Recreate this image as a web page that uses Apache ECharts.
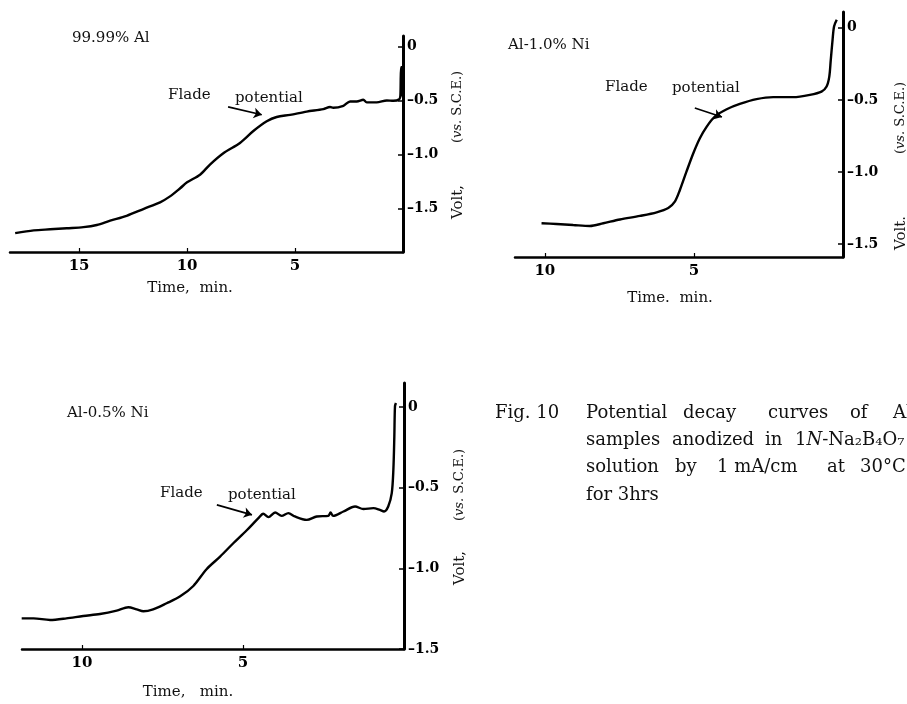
<!DOCTYPE html>
<html>
<head>
<meta charset="utf-8">
<script src="https://cdn.jsdelivr.net/npm/echarts@6/dist/echarts.min.js"></script>
<style>html,body{margin:0;padding:0;background:#fff}#c{width:907px;height:704px}</style>
</head>
<body>
<div id="c"></div>
<script>
// ---- data (time in min, potential in V vs S.C.E.) ----
const panelTitles = ['99.99% Al', 'Al-1.0% Ni', 'Al-0.5% Ni'];
const yTickValues = [0, -0.5, -1.0, -1.5];
const xTicks1 = [5, 10, 15];
const xTicks2 = [5, 10];
const xTicks3 = [5, 10];

const curveAl = [[17.96,-1.725],[17.1,-1.70],[16.34,-1.69],[15.57,-1.68],[14.8,-1.67],[14.18,-1.65],[13.56,-1.61],[12.8,-1.565],[12.0,-1.50],[11.25,-1.44],[10.79,-1.385],[10.32,-1.31],[10.0,-1.255],[9.4,-1.185],[8.94,-1.09],[8.32,-0.985],[7.55,-0.89],[6.93,-0.78],[6.31,-0.69],[5.85,-0.65],[5.23,-0.63],[4.46,-0.60],[3.69,-0.577],[3.38,-0.558],[3.23,-0.565],[2.76,-0.546],[2.45,-0.506],[2.14,-0.506],[1.84,-0.49],[1.68,-0.515],[1.22,-0.515],[0.75,-0.497],[0.45,-0.50],[0.17,-0.485],[0.12,-0.45],[0.09,-0.19],[0.04,-0.19],[0.03,-0.46]];
const curveNi10 = [[10.11,-1.356],[9.61,-1.361],[9.05,-1.368],[8.49,-1.375],[8.04,-1.356],[7.48,-1.33],[6.81,-1.305],[6.25,-1.28],[5.86,-1.25],[5.64,-1.206],[5.47,-1.125],[5.25,-0.998],[5.02,-0.87],[4.8,-0.766],[4.57,-0.685],[4.3,-0.616],[3.9,-0.565],[3.46,-0.528],[2.9,-0.495],[2.34,-0.481],[1.67,-0.481],[1.11,-0.465],[0.72,-0.442],[0.55,-0.407],[0.46,-0.338],[0.41,-0.222],[0.35,-0.083],[0.30,0.01],[0.21,0.056]];
const curveNi05 = [[11.87,-1.31],[11.5,-1.31],[10.99,-1.32],[10.48,-1.31],[9.96,-1.295],[9.44,-1.283],[8.92,-1.262],[8.56,-1.241],[8.30,-1.254],[8.09,-1.266],[7.79,-1.254],[7.37,-1.216],[6.96,-1.175],[6.54,-1.109],[6.13,-1.005],[5.71,-0.927],[5.30,-0.844],[4.89,-0.765],[4.52,-0.688],[4.37,-0.661],[4.21,-0.682],[4.0,-0.653],[3.80,-0.674],[3.59,-0.657],[3.39,-0.678],[3.02,-0.699],[2.71,-0.678],[2.35,-0.674],[2.28,-0.653],[2.20,-0.674],[1.88,-0.647],[1.52,-0.616],[1.26,-0.632],[0.95,-0.626],[0.75,-0.637],[0.62,-0.647],[0.49,-0.616],[0.38,-0.533],[0.33,-0.388],[0.30,-0.181],[0.28,0.005],[0.25,0.026]];

// Flade potential arrows (data coordinates: start, end)
const fladeArrowAl = [[8.1,-0.556],[6.54,-0.63]];
const fladeArrowNi10 = [[4.97,-0.556],[4.06,-0.618]];
const fladeArrowNi05 = [[5.81,-0.606],[4.72,-0.668]];

// ---- chart ----
const FONT = 'DejaVu Serif';
const chart = echarts.init(document.getElementById('c'), null, {renderer:'canvas'});

function xAxisCfg(gridIndex, max, ticks) {
  return {
    type:'value', gridIndex, inverse:true, min:0, max,
    axisLine:{show:true, onZero:false, lineStyle:{color:'#000', width:2.5}},
    axisTick:{show:true, inside:true, length:4, customValues:ticks, lineStyle:{color:'#000', width:1.2}},
    axisLabel:{customValues:ticks, margin:7, color:'#000', fontFamily:FONT, fontSize:15, fontWeight:'bold'},
    splitLine:{show:false}
  };
}
function yAxisCfg(gridIndex, min, max) {
  return {
    type:'value', gridIndex, position:'right', min, max,
    axisLine:{show:true, onZero:false, lineStyle:{color:'#000', width:3}},
    axisTick:{show:true, inside:true, length:5, customValues:yTickValues, lineStyle:{color:'#000', width:1.5}},
    axisLabel:{customValues:yTickValues, margin:4, color:'#000', fontFamily:FONT, fontSize:14, fontWeight:'bold',
      formatter: v => v === 0 ? '0' : '\u2013' + Math.abs(v).toFixed(1)},
    splitLine:{show:false}
  };
}
function curveSeries(idx, data, arrow) {
  return {
    type:'line', xAxisIndex:idx, yAxisIndex:idx, data,
    showSymbol:false, smooth:0.3, clip:false,
    lineStyle:{color:'#000', width:2.4},
    markLine:{
      silent:true, symbol:['none','arrow'], symbolSize:8, animation:false,
      label:{show:false},
      lineStyle:{color:'#000', width:1.6, type:'solid'},
      data:[[{coord:arrow[0]}, {coord:arrow[1]}]]
    }
  };
}
function txt(x, y, text, o) {
  o = o || {};
  return {
    type:'text', x, y, rotation:o.rot || 0, silent:true,
    style:{text, fill:'#111', fontFamily:FONT, fontSize:o.size || 15, fontWeight:o.weight || 'normal',
      fontStyle:o.style || 'normal', align:o.align || 'left', verticalAlign:'middle', rich:o.rich}
  };
}

const R = Math.PI / 2;
const capRich = {i:{fontStyle:'italic', fontFamily:FONT, fontSize:18, fill:'#111'}};
const vsRich = {i:{fontStyle:'italic', fontFamily:FONT, fontSize:13, fill:'#111'}};
const vsText = '({i|vs.} S.C.E.)';
const graphics = [
  txt(72, 38, panelTitles[0]),
  txt(508, 45, panelTitles[1]),
  txt(67, 413, panelTitles[2]),
  txt(168, 95, 'Flade'), txt(235, 98, 'potential'),
  txt(605, 87, 'Flade'), txt(672, 88, 'potential'),
  txt(160, 493, 'Flade'), txt(228, 495, 'potential'),
  txt(190, 288, 'Time,  min.', {align:'center'}),
  txt(670, 298, 'Time.  min.', {align:'center'}),
  txt(188, 692, 'Time,   min.', {align:'center'}),
  txt(458, 202, 'Volt,', {rot:R, align:'center'}),
  txt(458, 107, vsText, {rot:R, align:'center', size:13, rich:vsRich}),
  txt(901, 233, 'Volt.', {rot:R, align:'center'}),
  txt(901, 118, vsText, {rot:R, align:'center', size:13, rich:vsRich}),
  txt(460, 568, 'Volt,', {rot:R, align:'center'}),
  txt(460, 485, vsText, {rot:R, align:'center', size:13, rich:vsRich}),
  // caption
  txt(495, 413, 'Fig. 10', {size:18}),
  txt(586, 413, 'Potential', {size:18}), txt(683, 413, 'decay', {size:18}),
  txt(768, 413, 'curves', {size:18}), txt(850, 413, 'of', {size:18}), txt(893, 413, 'Al', {size:18}),
  txt(586, 440, 'samples', {size:18}), txt(672, 440, 'anodized', {size:18}),
  txt(765, 440, 'in', {size:18}), txt(795, 440, '1{i|N}-Na\u2082B\u2084O\u2087', {size:18, rich:capRich}),
  txt(586, 467, 'solution', {size:18}), txt(675, 467, 'by', {size:18}),
  txt(717, 467, '1 mA/cm', {size:18}), txt(827, 467, 'at', {size:18}), txt(860, 467, '30\u00b0C', {size:18}),
  txt(586, 495, 'for 3hrs', {size:18})
];

chart.setOption({
  animation:false,
  backgroundColor:'#fff',
  grid:[
    {left:10, top:36, width:393, height:216},
    {left:515, top:12, width:328, height:245},
    {left:22, top:383, width:382, height:266}
  ],
  xAxis:[xAxisCfg(0, 18.2, xTicks1), xAxisCfg(1, 11.0, xTicks2), xAxisCfg(2, 11.86, xTicks3)],
  yAxis:[yAxisCfg(0, -1.9, 0.1), yAxisCfg(1, -1.59, 0.11), yAxisCfg(2, -1.5, 0.15)],
  series:[
    curveSeries(0, curveAl, fladeArrowAl),
    curveSeries(1, curveNi10, fladeArrowNi10),
    curveSeries(2, curveNi05, fladeArrowNi05)
  ],
  graphic:graphics
});
</script>
</body>
</html>
